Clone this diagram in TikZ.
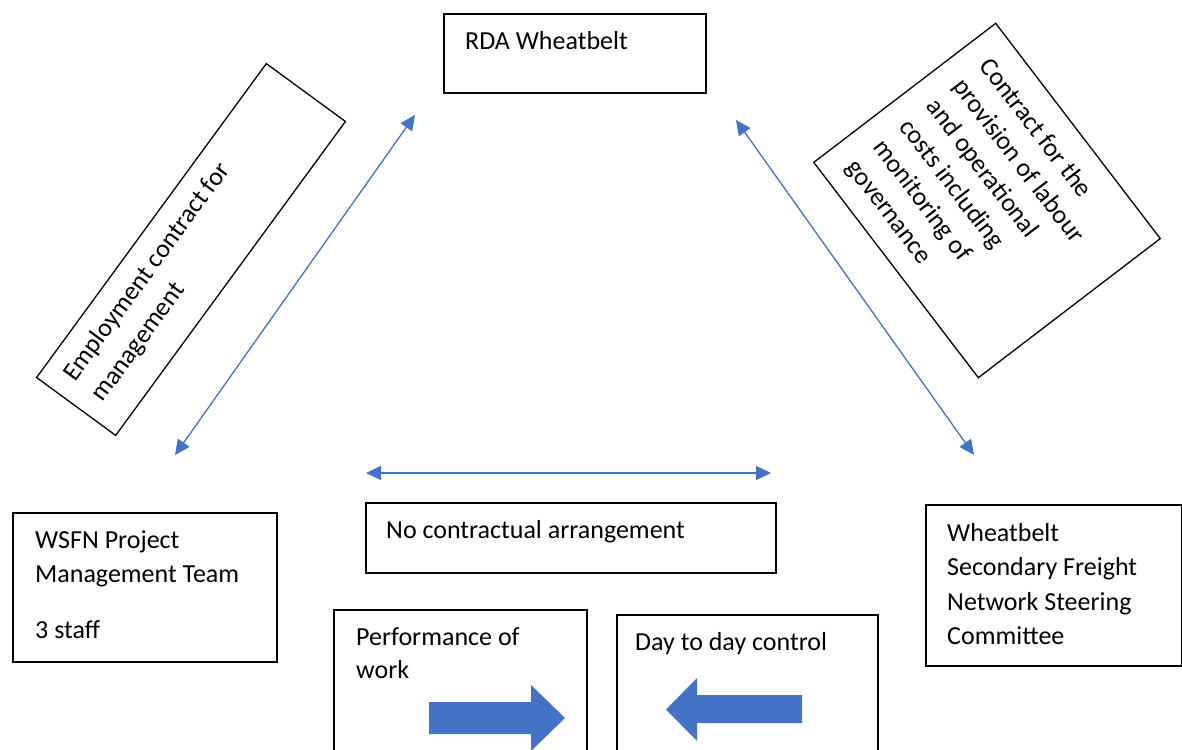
\documentclass[tikz,border=0pt]{standalone}
\usepackage{fontspec}
\setmainfont{Carlito}
\usetikzlibrary{arrows.meta}
\definecolor{arrowblue}{HTML}{4472C4}
\newcommand\mylines[1]{\begin{tabular}[t]{@{}l@{}}#1\end{tabular}}
\begin{document}
\begin{tikzpicture}[x=1pt,y=-1pt,
  box/.style={draw=black,line width=1.6pt,fill=white,inner sep=0pt,rectangle},
  rbox/.style={draw=black,line width=1.3pt,fill=white,inner sep=0pt,rectangle,transform shape},
  txt/.style={inner sep=0pt,anchor=base west,font=\fontsize{26}{34.5}\selectfont},
  rtxt/.style={txt,transform shape},
  conn/.style={draw=arrowblue,line width=1.3pt,{Triangle[length=15pt,width=14pt]}-{Triangle[length=15pt,width=14pt]}},
  blockarrow/.style={fill=arrowblue,draw=none}]
\useasboundingbox (0,0) rectangle (1182,749);
\clip (0,0) rectangle (1182,749);
\fill[white] (0,0) rectangle (1182,749);

% upright boxes
\node[box,minimum width=262pt,minimum height=79pt] (rda) at (575,53.5) {};
\node[txt] (rdat) at (465,50) {RDA Wheatbelt};

\node[box,minimum width=264pt,minimum height=149pt] (wsfn) at (145,587.5) {};
\node[txt] (wsfnt) at (35,548) {\mylines{WSFN Project\\ Management Team\\[21pt] 3 staff}};

\node[box,minimum width=256pt,minimum height=161pt] (sfn) at (1054,585.5) {};
\node[txt] (sfnt) at (947,541) {\mylines{Wheatbelt\\ Secondary Freight\\ Network Steering\\ Committee}};

\node[box,minimum width=410pt,minimum height=70pt] (noc) at (571,538) {};
\node[txt] (noct) at (386,538) {No contractual arrangement};

\node[box,minimum width=253pt,minimum height=160pt] (perf) at (460.5,690) {};
\node[txt] (perft) at (356,645) {\mylines{Performance of\\[-1.5pt] work}};

\node[box,minimum width=261pt,minimum height=155pt] (day) at (747.5,692.5) {};
\node[txt] (dayt) at (635,650) {Day to day control};

% block arrows
\fill[blockarrow] (429,702) -- (531,702) -- (531,685) -- (565,718) -- (531,751) -- (531,734) -- (429,734) -- cycle;
\fill[blockarrow] (802,695) -- (697,695) -- (697,678) -- (666,709.5) -- (697,741) -- (697,723) -- (802,723) -- cycle;

% rotated boxes
\begin{scope}[shift={(191,249.5)},rotate=53.8]
  \node[rbox,minimum width=389pt,minimum height=98pt] (emp) at (0,0) {};
  \node[rtxt] (empt) at (-176,-15) {\mylines{Employment contract for\\ management}};
\end{scope}
\begin{scope}[shift={(987,200.5)},rotate=-52.6]
  \node[rbox,minimum width=271pt,minimum height=229pt] (lab) at (0,0) {};
  \node[rtxt] (labt) at (-112,-75) {\mylines{Contract for the\\[-1pt] provision of labour\\[-1pt] and operational\\[-1pt] costs including\\[-1pt] monitoring of\\[-1pt] governance}};
\end{scope}

% connectors
\coordinate (lt) at (415,115);
\coordinate (lb) at (175,455);
\coordinate (rt) at (736,120);
\coordinate (rb) at (974,455);
\coordinate (hl) at (366,473);
\coordinate (hr) at (771,473);
\draw[conn] (lt) -- (lb);
\draw[conn] (rt) -- (rb);
\draw[conn] (hl) -- (hr);
\end{tikzpicture}
\end{document}
